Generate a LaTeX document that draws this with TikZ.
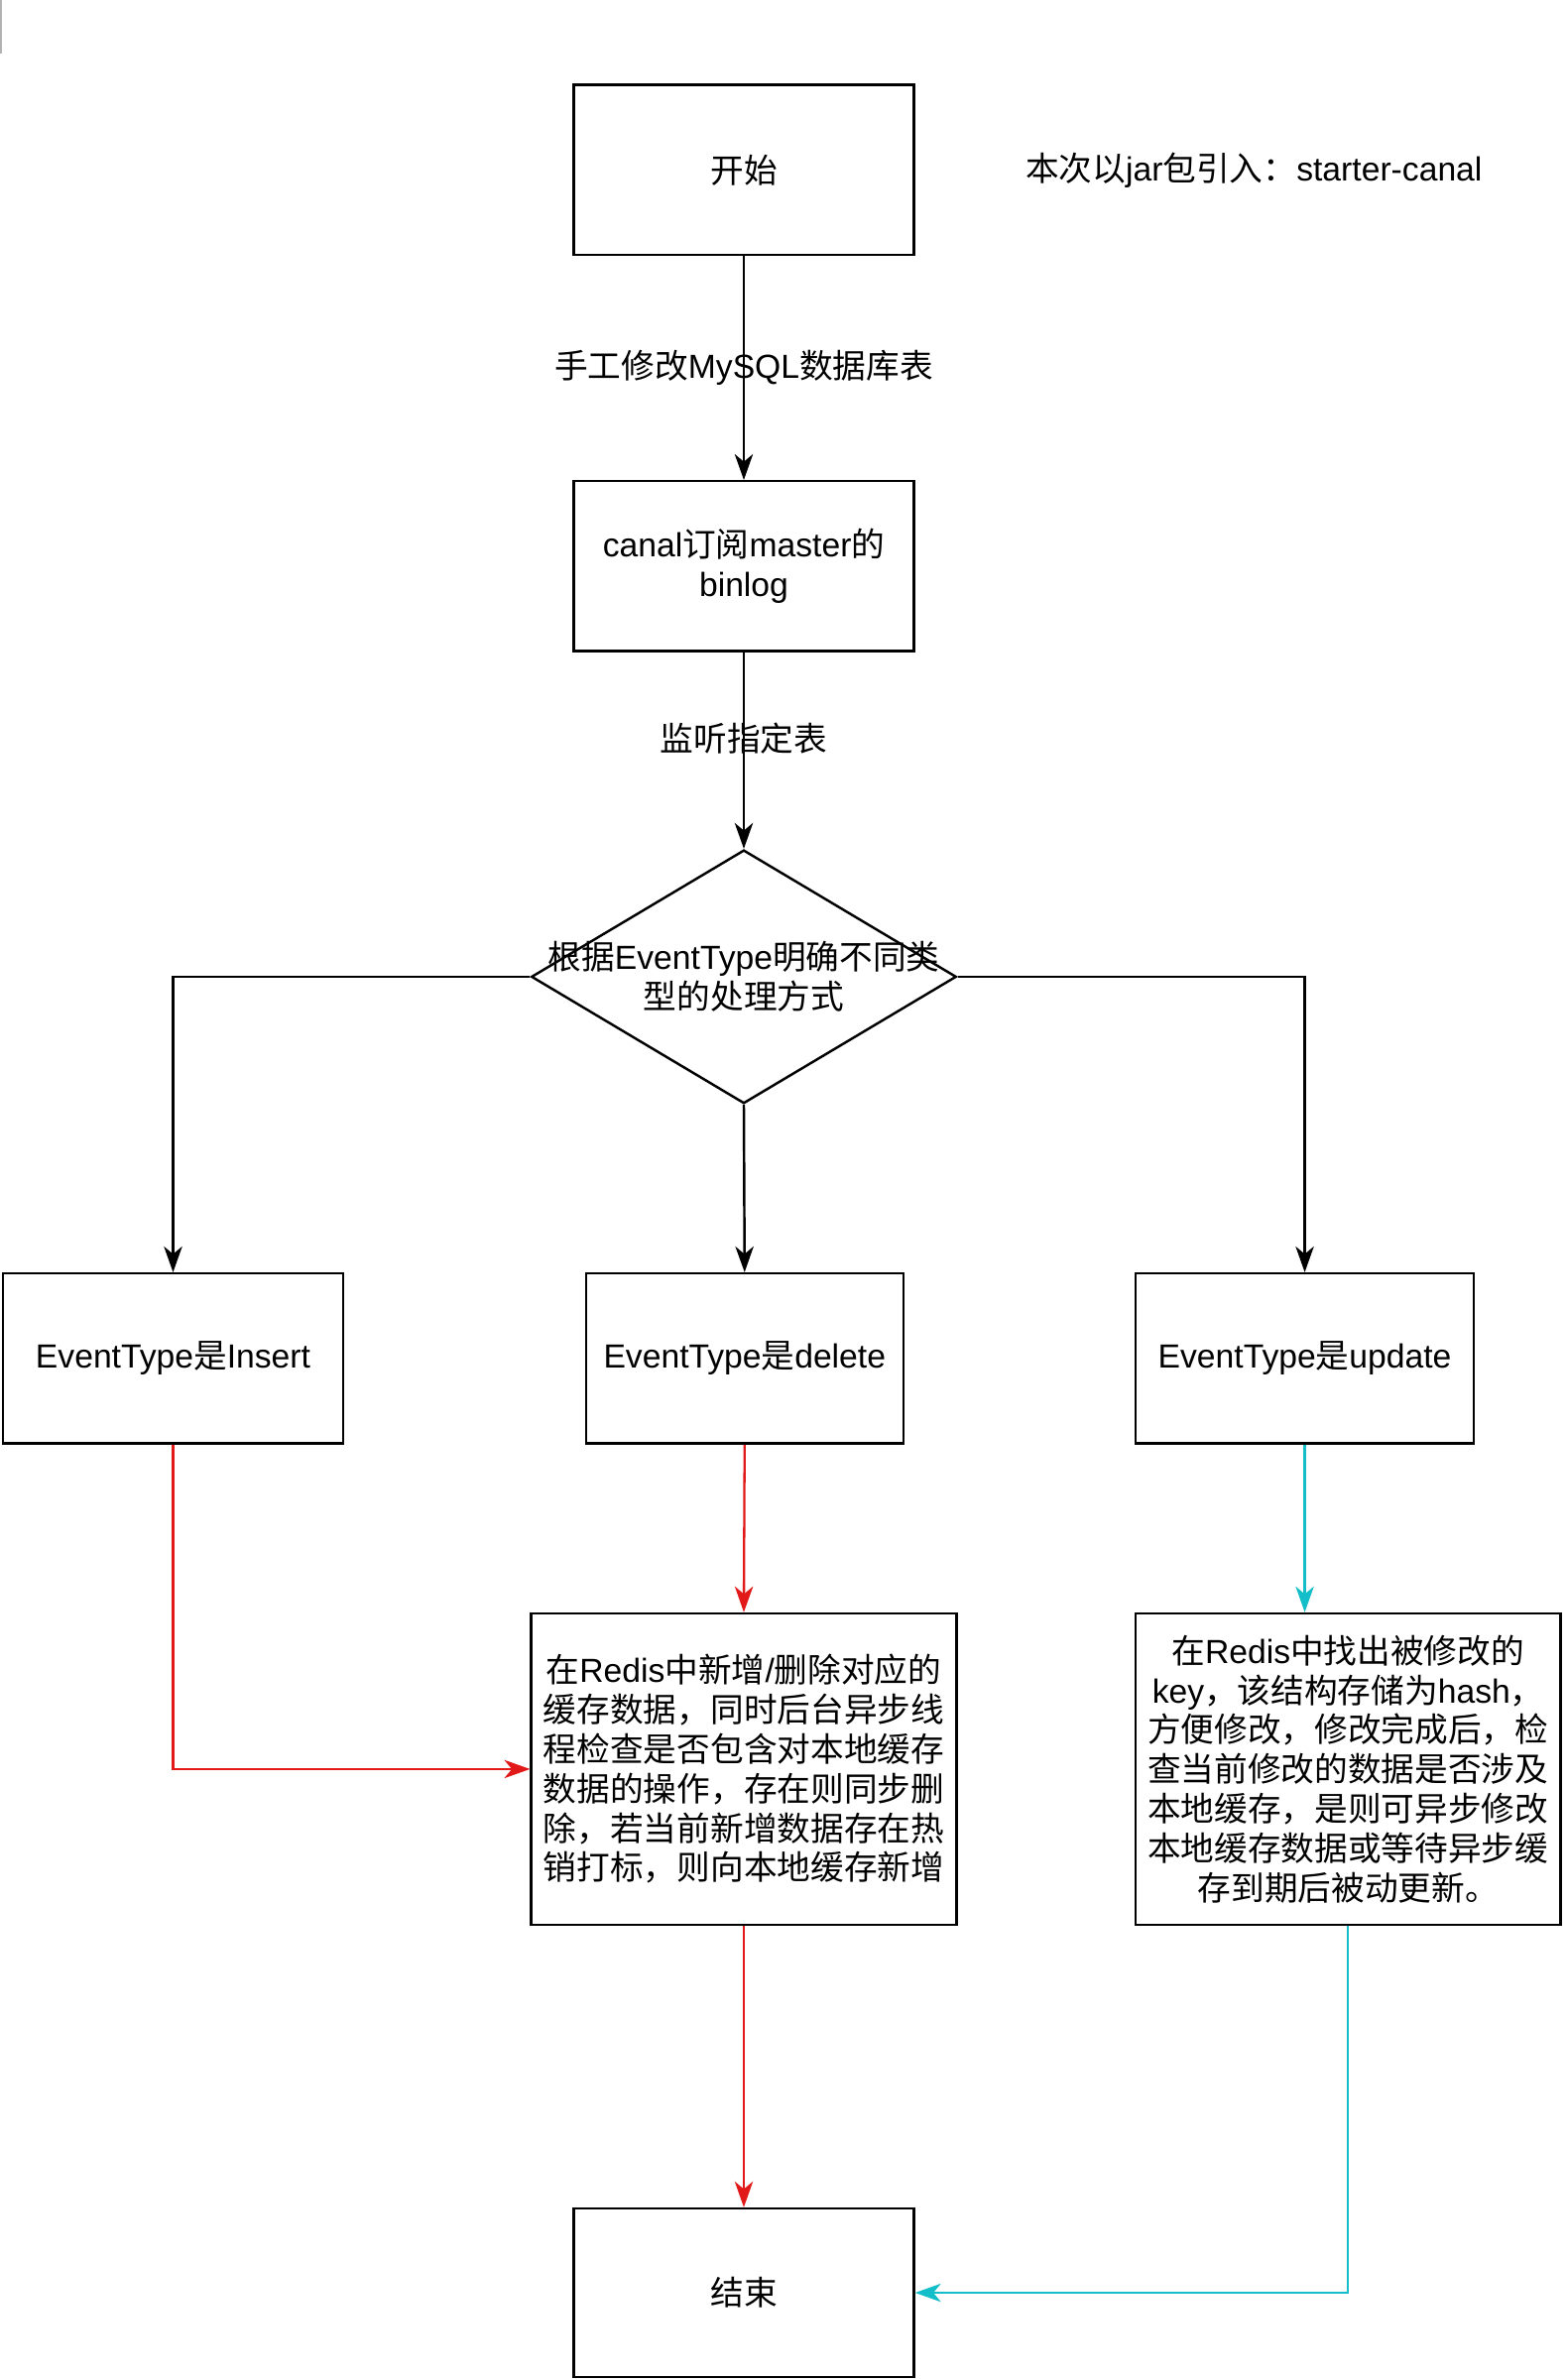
\documentclass[tikz,border=0pt]{standalone}
\usepackage{fontspec}
\setmainfont{Noto Sans CJK SC}
\newfontfamily\lat{Liberation Sans}
\usetikzlibrary{arrows.meta,shapes.geometric,positioning}
\definecolor{flowred}{RGB}{225,25,25}
\definecolor{flowcyan}{RGB}{20,190,200}
\newcommand{\eng}[1]{{\lat #1}}

\begin{document}
\begin{tikzpicture}[x=1pt,y=-1pt,font=\fontsize{22}{26}\selectfont]
        \tikzstyle{box}=[rectangle, draw=black, line width=1.6pt, minimum width=224pt, minimum height=112pt, align=center, inner sep=1pt]
        \tikzstyle{connect}=[-{Stealth[length=17pt,width=12pt,inset=5pt]}, line width=1.6pt]
        \tikzstyle{redline}=[connect, draw=flowred, line width=1.5pt]
        \tikzstyle{cyanline}=[connect, draw=flowcyan, line width=1.5pt]
        \useasboundingbox (0,0) rectangle (1032,1568);
        \draw[gray!60, line width=1pt] (0.5,0) -- (0.5,35);
        % top of the flow
        \node[box] (start) at (490,112) {开始};
        \node (note) at (826,112) {本次以\eng{jar}包引入：\eng{starter-canal}};
        \node[box] (canal) at (490,373) {\eng{canal}订阅\eng{master}的\\\eng{binlog}};
        \node[diamond, draw=black, line width=1.6pt, aspect=1.677, minimum width=280pt, minimum height=167pt, inner sep=0pt] (type) at (490,643.5)
            [label={[align=center]center:根据\eng{EventType}明确不同类\\型的处理方式}] {};
        % the three event types
        \node[box] (ins) at (114,895) {\eng{EventType}是\eng{Insert}};
        \node[box, minimum width=209pt] (del) at (490.5,895) {\eng{EventType}是\eng{delete}};
        \node[box, minimum width=223pt] (upd) at (859.5,895) {\eng{EventType}是\eng{update}};
        \node[box, minimum width=280pt, minimum height=205pt] (redis) at (490,1165.5)
            {在\eng{Redis}中新增\eng{/}删除对应的\\缓存数据，同时后台异步线\\程检查是否包含对本地缓存\\数据的操作，存在则同步删\\除，若当前新增数据存在热\\销打标，则向本地缓存新增};
        \node[box, minimum width=280pt, minimum height=205pt] (hash) at (888,1165.5)
            {在\eng{Redis}中找出被修改的\\\eng{key}，该结构存储为\eng{hash}，\\方便修改，修改完成后，检\\查当前修改的数据是否涉及\\本地缓存，是则可异步修改\\本地缓存数据或等待异步缓\\存到期后被动更新。};
        \node[box, minimum height=111pt] (end) at (490,1510.5) {结束};
        % connectors
        \draw[connect] (start) -- node {手工修改\eng{MySQL}数据库表} (canal);
        \draw[connect] (canal) -- node[pos=0.44] {监听指定表} (type);
        \draw[connect] (type.west) -| (ins.north);
        \draw[connect] (type.south) -- (del.north);
        \draw[connect] (type.east) -| (upd.north);
        \draw[redline] (ins.south) |- (redis.west);
        \draw[redline] (del.south) -- (redis.north);
        \draw[redline] (redis.south) -- (end.north);
        \draw[cyanline] (upd.south) -- (upd.south |- hash.north);
        \draw[cyanline] (hash.south) |- (end.east);
\end{tikzpicture}
\end{document}
